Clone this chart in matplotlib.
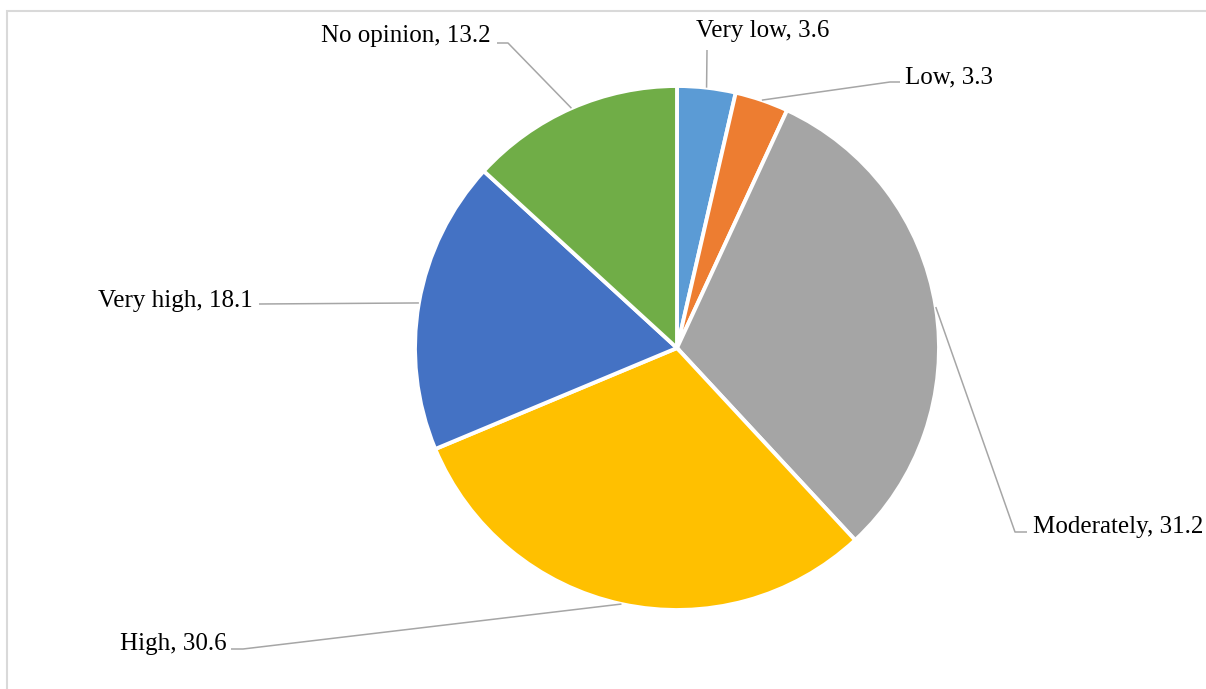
import numpy as np
import matplotlib
matplotlib.use("Agg")
import matplotlib.pyplot as plt

categories = ["Very low", "Low", "Moderately", "High", "Very high", "No opinion"]
values = [3.6, 3.3, 31.2, 30.6, 18.1, 13.2]
colors = ["#5B9BD5", "#ED7D31", "#A5A5A5", "#FFC000", "#4472C4", "#70AD47"]

W, H = 1206, 689
CX, CY, R = 677, 348, 262

# label layout in pixel coords: (text x, baseline y, ha, elbow point or None, line end)
layout = {
    "Very low":   dict(tx=763, ty=37, ha="center", elbow=None, end=(707, 50)),
    "Low":        dict(tx=905, ty=83, ha="left", elbow=(890, 82), end=(900, 82)),
    "Moderately": dict(tx=1033, ty=533, ha="left", elbow=(1015, 532), end=(1027, 532)),
    "High":       dict(tx=227, ty=650, ha="right", elbow=(243, 649), end=(231, 649)),
    "Very high":  dict(tx=253, ty=307, ha="right", elbow=None, end=(259, 304)),
    "No opinion": dict(tx=491, ty=42, ha="right", elbow=(508, 43), end=(497, 43)),
}

plt.rcParams['font.family'] = ['Liberation Serif', 'DejaVu Serif']

fig = plt.figure(figsize=(W / 100, H / 100), dpi=100)
ax = fig.add_axes([0, 0, 1, 1])

def py(y):
    return H - y

wedges, _ = ax.pie(values, colors=colors, startangle=90, counterclock=False,
                   center=(CX, py(CY)), radius=R, frame=True,
                   wedgeprops=dict(edgecolor="white", linewidth=2.8))
ax.set_xlim(0, W)
ax.set_ylim(0, H)
ax.set_aspect("equal")
ax.axis("off")

line_col = "#A6A6A6"
for w, cat, v in zip(wedges, categories, values):
    mid = np.deg2rad((w.theta1 + w.theta2) / 2)
    ax_ = CX + R * np.cos(mid)
    ay_ = py(CY) + R * np.sin(mid)
    L = layout[cat]
    pts = [(ax_, ay_)]
    if L["elbow"] is not None:
        pts.append((L["elbow"][0], py(L["elbow"][1])))
    pts.append((L["end"][0], py(L["end"][1])))
    xs, ys = zip(*pts)
    ax.plot(xs, ys, color=line_col, lw=1.1, zorder=1, solid_capstyle="butt")
    ax.text(L["tx"], py(L["ty"]), f"{cat}, {v}", ha=L["ha"], va="baseline",
            fontsize=18, color="#000000")

# chart-area border (top and left edges visible)
ax.plot([6.5, 6.5, W + 5], [py(H + 5), py(11), py(11)], color="#D9D9D9", lw=1.5,
        solid_joinstyle="miter")

fig.savefig("out.png", dpi=100)
